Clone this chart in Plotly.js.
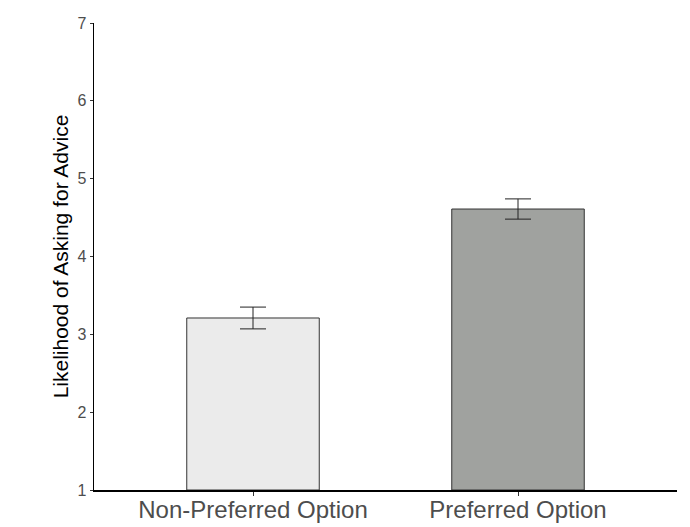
<!DOCTYPE html>
<html>
<head>
<meta charset="utf-8">
<script src="https://cdn.plot.ly/plotly-3.0.1.min.js"></script>
<style>html,body{margin:0;padding:0;background:#fff;}#chart{width:690px;height:527px;}</style>
</head>
<body>
<div id="chart"></div>
<script>
const categories = ["Non-Preferred Option", "Preferred Option"];
const means = [3.21, 4.61];
const errUpper = [0.14, 0.13];
const errLower = [0.14, 0.13];
const barColors = ["#ebebeb", "#a0a29f"];
const yTicks = [1, 2, 3, 4, 5, 6, 7];

const trace = {
  type: "bar",
  x: [0, 1],
  y: means.map(v => v - 1),
  base: 1,
  width: 0.5,
  marker: {color: barColors, line: {color: "#333333", width: 1}},
  error_y: {type: "data", symmetric: false, array: errUpper, arrayminus: errLower,
            color: "#222222", thickness: 1, width: 13},
  hoverinfo: "skip"
};

const layout = {
  width: 690, height: 527,
  margin: {l: 94, r: 13, t: 23, b: 37},
  paper_bgcolor: "#ffffff", plot_bgcolor: "#ffffff",
  showlegend: false,
  font: {family: "Liberation Sans, Arial, sans-serif"},
  xaxis: {
    range: [-0.6, 1.6],
    tickvals: [0, 1], ticktext: categories,
    showgrid: false, zeroline: false,
    showline: true, linecolor: "#000000", linewidth: 1.5,
    ticks: "outside", ticklen: 4, tickcolor: "#333333", tickwidth: 1,
    ticklabelstandoff: -6,
    tickfont: {size: 24, color: "#4d4d4d"}
  },
  yaxis: {
    range: [1, 7],
    tickvals: yTicks,
    showgrid: false, zeroline: false,
    showline: true, linecolor: "#000000", linewidth: 1.5,
    ticks: "outside", ticklen: 3, tickcolor: "#333333", tickwidth: 1,
    tickfont: {size: 16, color: "#4d4d4d"},
    title: {text: "Likelihood of Asking for Advice", font: {size: 21, color: "#000000"}, standoff: 3}
  }
};

Plotly.newPlot("chart", [trace], layout, {displayModeBar: false, staticPlot: true});
</script>
</body>
</html>
